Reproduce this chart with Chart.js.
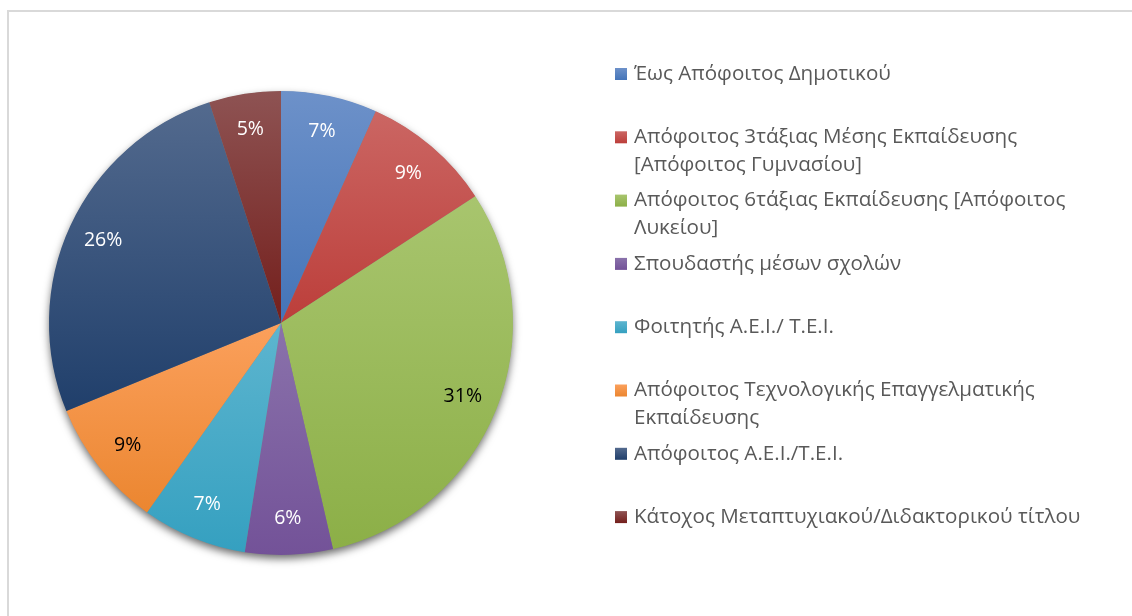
<!DOCTYPE html>
<html>
<head>
<meta charset="utf-8">
<script src="https://cdn.jsdelivr.net/npm/chart.js@4.4.1/dist/chart.umd.min.js"></script>
<style>
  html, body { margin: 0; padding: 0; background: #ffffff; }
  #wrap { position: relative; width: 1132px; height: 616px; }
</style>
</head>
<body>
<div id="wrap"><canvas id="c" width="1132" height="616"></canvas></div>
<script>
// ---- data ----
const categories = [
  ["Έως Απόφοιτος Δημοτικού"],
  ["Απόφοιτος 3τάξιας Μέσης Εκπαίδευσης", "[Απόφοιτος Γυμνασίου]"],
  ["Απόφοιτος 6τάξιας Εκπαίδευσης [Απόφοιτος", "Λυκείου]"],
  ["Σπουδαστής μέσων σχολών"],
  ["Φοιτητής Α.Ε.Ι./ Τ.Ε.Ι."],
  ["Απόφοιτος Τεχνολογικής Επαγγελματικής", "Εκπαίδευσης"],
  ["Απόφοιτος Α.Ε.Ι./Τ.Ε.Ι."],
  ["Κάτοχος Μεταπτυχιακού/Διδακτορικού τίτλου"]
];
const shares = [6.7, 9.1, 30.6, 6.1, 7.3, 9.0, 26.2, 5.0];

// ---- styles ----
const topColors    = ["#6D91C9", "#CB6663", "#A8C56E", "#8A72AB", "#5DB5CF", "#FBA05C", "#536A8E", "#8E5353"];
const bottomColors = ["#4474B8", "#BC3E3A", "#8CAF47", "#735298", "#35A0C0", "#EB8630", "#203F6B", "#741F1C"];
const labelColors  = ["#FFFFFF", "#FFFFFF", "#000000", "#FFFFFF", "#FFFFFF", "#000000", "#FFFFFF", "#FFFFFF"];
const FONT = '"Open Sans", "DejaVu Sans", sans-serif';

function arcYRange(x, y, r, a0, a1) {
  let ys = [y, y + r * Math.sin(a0), y + r * Math.sin(a1)];
  for (let k = -3; k <= 3; k++) {
    const t = -Math.PI / 2 + k * 2 * Math.PI;
    const b = Math.PI / 2 + k * 2 * Math.PI;
    if (t >= a0 && t <= a1) ys.push(y - r);
    if (b >= a0 && b <= a1) ys.push(y + r);
  }
  return [Math.min(...ys), Math.max(...ys)];
}

const framePlugin = {
  id: 'frame',
  beforeDraw(chart) {
    const ctx = chart.ctx;
    ctx.save();
    ctx.fillStyle = '#ffffff';
    ctx.fillRect(0, 0, chart.width, chart.height);
    ctx.strokeStyle = '#D9D9D9';
    ctx.lineWidth = 2;
    ctx.beginPath();
    ctx.moveTo(8, chart.height);
    ctx.lineTo(8, 11);
    ctx.lineTo(chart.width, 11);
    ctx.stroke();
    ctx.restore();
  }
};

const shadePlugin = {
  id: 'shade',
  beforeDatasetsDraw(chart) {
    const meta = chart.getDatasetMeta(0);
    const ctx = chart.ctx;
    let cx = 0, cy = 0, R = 0;
    meta.data.forEach((arc, i) => {
      const p = arc.getProps(['x', 'y', 'startAngle', 'endAngle', 'outerRadius'], true);
      cx = p.x; cy = p.y; R = p.outerRadius;
      const [y0, y1] = arcYRange(p.x, p.y, p.outerRadius, p.startAngle, p.endAngle);
      const g = ctx.createLinearGradient(0, y0, 0, Math.max(y1, y0 + 1));
      g.addColorStop(0, topColors[i]);
      g.addColorStop(1, bottomColors[i]);
      arc.options.backgroundColor = g;
    });
    ctx.save();
    ctx.shadowColor = 'rgba(0,0,0,0.6)';
    ctx.shadowBlur = 9;
    ctx.shadowOffsetY = 4;
    ctx.fillStyle = '#7f7f7f';
    ctx.beginPath();
    ctx.arc(cx, cy, R - 0.5, 0, Math.PI * 2);
    ctx.fill();
    ctx.restore();
  }
};

const labelPlugin = {
  id: 'pctLabels',
  afterDatasetsDraw(chart) {
    const meta = chart.getDatasetMeta(0);
    const ctx = chart.ctx;
    const total = shares.reduce((a, b) => a + b, 0);
    ctx.save();
    ctx.font = '19.5px ' + FONT;
    ctx.textAlign = 'center';
    ctx.textBaseline = 'middle';
    meta.data.forEach((arc, i) => {
      const p = arc.getProps(['x', 'y', 'startAngle', 'endAngle', 'outerRadius'], true);
      const mid = (p.startAngle + p.endAngle) / 2;
      const rr = p.outerRadius * 0.845;
      const tx = p.x + rr * Math.cos(mid);
      const ty = p.y + rr * Math.sin(mid);
      ctx.fillStyle = labelColors[i];
      ctx.fillText(Math.round(shares[i] / total * 100) + '%', tx, ty);
    });
    ctx.restore();
  }
};

const legendPlugin = {
  id: 'sideLegend',
  afterDraw(chart) {
    const ctx = chart.ctx;
    const x0 = 615, tx = 634, y0 = 74, step = 63.3, lh = 28;
    ctx.save();
    ctx.font = '20.6px ' + FONT;
    ctx.textBaseline = 'middle';
    ctx.textAlign = 'left';
    categories.forEach((lines, i) => {
      const y = y0 + i * step;
      const g = ctx.createLinearGradient(0, y - 6, 0, y + 6);
      g.addColorStop(0, topColors[i]);
      g.addColorStop(1, bottomColors[i]);
      ctx.fillStyle = g;
      ctx.fillRect(x0, y - 6, 12, 12);
      ctx.fillStyle = '#595959';
      lines.forEach((ln, j) => ctx.fillText(ln, tx, y + j * lh));
    });
    ctx.restore();
  }
};

new Chart(document.getElementById('c'), {
  type: 'pie',
  data: {
    labels: categories.map(l => l.join(' ')),
    datasets: [{
      data: shares,
      backgroundColor: bottomColors,
      borderWidth: 0
    }]
  },
  options: {
    responsive: false,
    animation: false,
    events: [],
    layout: { padding: { left: 49, top: 91, right: 619, bottom: 61 } },
    plugins: {
      legend: { display: false },
      tooltip: { enabled: false }
    }
  },
  plugins: [framePlugin, shadePlugin, labelPlugin, legendPlugin]
});
</script>
</body>
</html>
